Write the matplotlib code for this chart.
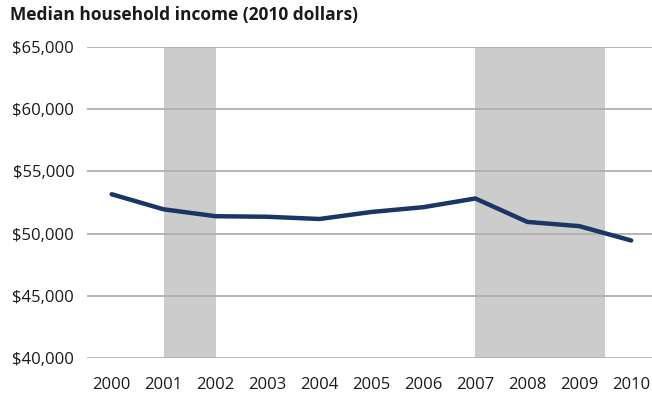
import matplotlib.pyplot as plt
from matplotlib.ticker import FuncFormatter

# Median household income, 2010 dollars
years = [2000, 2001, 2002, 2003, 2004, 2005, 2006, 2007, 2008, 2009, 2010]
income = [53164, 51953, 51398, 51353, 51174, 51739, 52124, 52823, 50939, 50599, 49445]

# recession periods (shaded)
recessions = [(2001, 2002), (2007, 2009.5)]

y_ticks = [40000, 45000, 50000, 55000, 60000, 65000]

plt.rcParams['font.family'] = ['Open Sans', 'DejaVu Sans']

fig = plt.figure(figsize=(6.52, 4.0), dpi=100)
ax = fig.add_axes([0.133, 0.105, 0.867, 0.7775])

for start, end in recessions:
    ax.axvspan(start, end, color='#cccccc', lw=0, zorder=1)

for y in y_ticks:
    ax.axhline(y, color='#b0b0b0', lw=1.3, zorder=2)

ax.plot(years, income, color='#1b3566', lw=3.2, solid_capstyle='round',
        solid_joinstyle='round', zorder=3)

ax.set_xlim(1999.52, 2010.4)
ax.set_ylim(40000, 65000)
ax.set_xticks(years)
ax.set_yticks(y_ticks)
ax.yaxis.set_major_formatter(FuncFormatter(lambda v, p: f'${v:,.0f}'))
ax.tick_params(axis='both', length=0, labelsize=12, colors='#1a1a1a')
ax.tick_params(axis='x', pad=14)
ax.tick_params(axis='y', pad=9)
for s in ax.spines.values():
    s.set_visible(False)

fig.text(0.015, 0.962, 'Median household income (2010 dollars)', fontsize=12.5,
         fontweight='bold', va='center', ha='left', color='#1a1a1a')

fig.savefig('out.png', dpi=100)
